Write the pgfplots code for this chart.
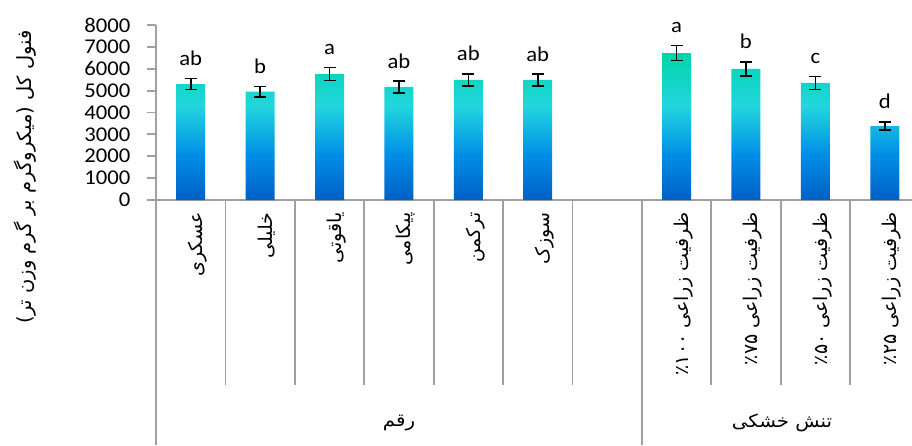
\documentclass[border=0pt]{standalone}
\usepackage{pgfplots}
\usepackage{pgfplotstable}
\pgfplotsset{compat=1.18}
\usepackage{fontspec}
\setmainfont{Carlito}[FakeStretch=1.08]
\newfontfamily\arabicfont[Script=Arabic]{DejaVu Sans}
\newfontfamily\arabicwide[Script=Arabic,FakeStretch=1.1]{DejaVu Sans}
\TeXXeTstate=1
\definecolor{axgray}{RGB}{160,160,160}
\definecolor{gtop}{RGB}{0,212,170}
\definecolor{gcyan}{RGB}{34,214,222}
\definecolor{gblue}{RGB}{0,140,230}
\definecolor{gbot}{RGB}{0,96,196}
\pgfdeclareverticalshading{barshade}{100bp}{color(0bp)=(gbot); color(25bp)=(gbot); color(40bp)=(gblue); color(57bp)=(gcyan); color(75bp)=(gtop); color(100bp)=(gtop)}
\pgfplotstableread{
x y e l
0 5300 250 ab
1 4950 230 b
2 5760 300 a
3 5170 270 ab
4 5490 280 ab
5 5490 270 ab
7 6720 350 a
8 5990 320 b
9 5350 290 c
10 3380 190 d
}\data
\begin{document}
\begin{tikzpicture}
\useasboundingbox (0,0) rectangle (912pt,445pt);
\begin{axis}[
  at={(156pt,245pt)}, anchor=south west,
  scale only axis, width=756.5pt, height=175pt,
  xmin=-0.5, xmax=10.4, ymin=0, ymax=8000,
  axis lines*=left,
  axis line style={axgray, line width=1.8pt, -},
  ytick={0,1000,...,8000},
  xtick={-0.5,0.5,...,9.5}, xticklabels={},
  minor xtick={-0.5,6.5},
  tick align=outside,
  major tick length=9pt,
  minor tick length=245pt,
  x tick style={axgray, line width=1.8pt, /pgfplots/major tick length=185pt},
  y tick style={axgray, line width=1.8pt},
  yticklabel style={font=\fontsize{21}{24}\selectfont},
  yticklabel shift=13pt,
  /pgf/number format/assume math mode=true,
  /pgf/number format/1000 sep={},
  extra x ticks={0,1,2,3,4,5,7,8,9,10},
  extra x tick labels={
    {\arabicfont\beginR عسکری\endR},
    {\arabicfont\beginR خلیلی\endR},
    {\arabicfont\beginR یاقوتی\endR},
    {\arabicfont\beginR پیکامی\endR},
    {\arabicfont\beginR ترکمن\endR},
    {\arabicfont\beginR سوزک\endR},
    {\arabicfont\beginR ظرفیت زراعی ۱۰۰\kern0pt ٪\endR},
    {\arabicfont\beginR ظرفیت زراعی ۷۵\kern0pt ٪\endR},
    {\arabicfont\beginR ظرفیت زراعی ۵۰\kern0pt ٪\endR},
    {\arabicfont\beginR ظرفیت زراعی ۲۵\kern0pt ٪\endR}},
  extra x tick style={x tick style={draw=none}, xticklabel style={rotate=90, anchor=east, yshift=-7pt, font=\fontsize{19}{21}\selectfont}},
  clip=false,
]
\addplot[ybar, bar width=29pt, draw=none, shade, shading=barshade,
  error bars/.cd, y dir=both, y explicit,
  error bar style={line width=1.6pt, black},
  error mark options={rotate=90, mark size=6pt, line width=1.6pt, black}]
  table[x=x, y=y, y error=e] {\data};
\addplot[draw=none, mark=none, nodes near coords, point meta=explicit symbolic,
  every node near coord/.append style={anchor=base, yshift=13pt, font=\fontsize{21}{24}\selectfont, black}]
  table[x=x, y expr=\thisrow{y}+\thisrow{e}, meta=l] {\data};
\end{axis}
\node[rotate=90, font=\fontsize{19.5}{22}\selectfont] at (25pt,268pt) {\arabicfont\beginR فنول کل (میکروگرم بر گرم وزن تر)\endR};
\node[font=\fontsize{18}{20}\selectfont] at (399pt,22pt) {\arabicwide\beginR رقم\endR};
\node[font=\fontsize{18}{20}\selectfont] at (782pt,22pt) {\arabicwide\beginR تنش خشکی\endR};
\end{tikzpicture}
\end{document}
